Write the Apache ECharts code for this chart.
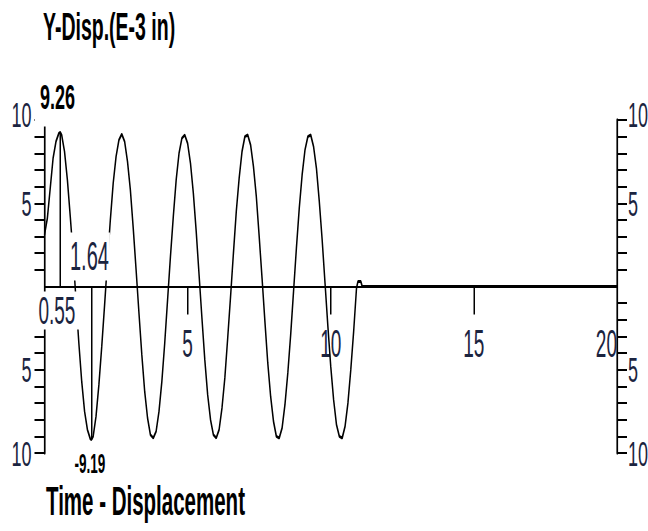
<!DOCTYPE html>
<html>
<head>
<meta charset="utf-8">
<script src="https://cdn.jsdelivr.net/npm/echarts@6/dist/echarts.min.js"></script>
<style>
  html, body { margin: 0; padding: 0; background: #fff; overflow: hidden; }
  /* the chart is laid out on a 1296px-wide stage and squeezed to 648px,
     which gives the tall, condensed lettering of the plotter output */
  #chart { width: 1296px; height: 531px; transform: scaleX(0.5); transform-origin: 0 0; }
</style>
</head>
<body>
<div id="chart"></div>
<script>
// time axis (s) and Y displacement (E-3 in)
const timeSec = [
  0, 0.1, 0.2, 0.3, 0.4, 0.5, 0.55, 0.6, 0.7, 0.8, 0.9,
  1.0, 1.1, 1.2, 1.3, 1.4, 1.5, 1.6, 1.64, 1.7, 1.8, 1.9,
  2.0, 2.1, 2.2, 2.3, 2.4, 2.5, 2.6, 2.7, 2.8, 2.9,
  3.0, 3.1, 3.2, 3.3, 3.4, 3.5, 3.6, 3.7, 3.8, 3.9,
  4.0, 4.1, 4.2, 4.3, 4.4, 4.5, 4.6, 4.7, 4.8, 4.9,
  5.0, 5.1, 5.2, 5.3, 5.4, 5.5, 5.6, 5.7, 5.8, 5.9,
  6.0, 6.1, 6.2, 6.3, 6.4, 6.5, 6.6, 6.7, 6.8, 6.9,
  7.0, 7.1, 7.2, 7.3, 7.4, 7.5, 7.6, 7.7, 7.8, 7.9,
  8.0, 8.1, 8.2, 8.3, 8.4, 8.5, 8.6, 8.7, 8.8, 8.9,
  9.0, 9.1, 9.2, 9.3, 9.4, 9.5, 9.6, 9.7, 9.8, 9.9,
  10.0, 10.1, 10.2, 10.3, 10.4, 10.5, 10.6, 10.7, 10.8, 10.9,
  10.95, 11.05, 11.1, 20
];
const dispE3in = [
  3.1, 4.1, 5.9, 7.7, 8.7, 9.2, 9.26, 9.1, 8.1, 6.4, 4.2,
  1.9, -0.8, -3.4, -5.7, -7.5, -8.6, -9.15, -9.19, -9.0, -7.8, -5.9,
  -3.6, -1.1, 1.5, 4.0, 6.2, 7.8, 8.8, 9.15, 8.7, 7.5,
  5.8, 3.5, 1.0, -1.6, -4.1, -6.3, -7.9, -8.9, -9.1, -8.7,
  -7.5, -5.7, -3.4, -0.8, 1.8, 4.2, 6.4, 8.0, 8.9, 9.1,
  8.6, 7.4, 5.6, 3.3, 0.7, -1.9, -4.4, -6.5, -8.0, -8.9,
  -9.1, -8.6, -7.3, -5.5, -3.1, -0.6, 2.0, 4.5, 6.5, 8.1,
  9.0, 9.1, 8.5, 7.2, 5.4, 3.0, 0.5, -2.1, -4.6, -6.6,
  -8.1, -9.0, -9.1, -8.5, -7.1, -5.2, -2.9, -0.3, 2.3, 4.7,
  6.7, 8.2, 9.0, 9.1, 8.4, 7.1, 5.1, 2.8, 0.2, -2.4,
  -4.8, -6.8, -8.3, -9.0, -9.1, -8.4, -7.0, -5.0, -2.7, -0.1,
  0.3, 0.3, 0, 0
];

// extreme-value readouts
const peakTime = 0.55, peakValue = 9.26;
const troughTime = 1.64, troughValue = -9.19;

// axis ticks and labels
const xTickValues = [5, 10, 15];
const xLabelValues = [5, 10, 15, 20];
const yTickValues = [-10, -9, -8, -7, -6, -5, -4, -3, -2, -1, 1, 2, 3, 4, 5, 6, 7, 8, 9, 10];
const yLabelValues = [-10, -5, 5, 10];

const titleText = 'Y-Disp.(E-3 in)';
const footerText = 'Time - Displacement';

const FONT = '"Liberation Sans", Arial, sans-serif';
const INK = '#000';
const LABEL_INK = '#1b2440';

// plot box on the 1296px stage
const GRID = { left: 89, right: 62, top: 120, bottom: 78 };
const plotHeight = 531 - GRID.top - GRID.bottom;

const chart = echarts.init(document.getElementById('chart'), null, { renderer: 'svg' });

function yAxisDef(position, margin) {
  return {
    type: 'value', position: position, min: -10, max: 10, interval: 5,
    axisLine: { show: true, onZero: false, lineStyle: { color: INK, width: 3.4 } },
    axisTick: { show: true, customValues: yTickValues, length: 20, lineStyle: { color: INK, width: 2 } },
    axisLabel: {
      customValues: yLabelValues, margin: margin,
      formatter: v => v === 10 ? '{top|10}' : String(Math.abs(v)),
      rich: { top: { fontFamily: FONT, fontSize: 36, color: LABEL_INK, padding: [0, 0, 12, 0] } },
      fontFamily: FONT, fontSize: 36, color: LABEL_INK
    },
    splitLine: { show: false }
  };
}

function readout(coord, text, style) {
  return {
    coord: coord,
    label: Object.assign({
      show: true, position: 'inside', formatter: text,
      fontFamily: FONT, color: LABEL_INK
    }, style)
  };
}

const option = {
  animation: false,
  backgroundColor: '#fff',
  title: [
    { text: titleText, left: 86, top: 7, padding: 0,
      textStyle: { fontFamily: FONT, fontSize: 39, fontWeight: 'bold', color: INK } },
    { text: footerText, left: 92, top: 481, padding: 0,
      textStyle: { fontFamily: FONT, fontSize: 41, fontWeight: 'bold', color: INK } }
  ],
  grid: Object.assign({ outerBoundsMode: 'none' }, GRID),
  xAxis: {
    type: 'value', min: 0, max: 20, interval: 5,
    // time axis drawn through y = 0, in the middle of the plot box
    position: 'bottom', offset: -plotHeight / 2,
    axisLine: { show: true, onZero: false, lineStyle: { color: INK, width: 2.2 } },
    axisTick: { show: true, customValues: xTickValues, length: 28, lineStyle: { color: INK, width: 3 } },
    axisLabel: {
      customValues: xLabelValues, margin: 38, alignMaxLabel: 'right',
      fontFamily: FONT, fontSize: 38, color: LABEL_INK
    },
    splitLine: { show: false }
  },
  yAxis: [yAxisDef('left', 26), yAxisDef('right', 22)],
  series: [{
    type: 'line',
    data: timeSec.map((t, i) => [t, dispE3in[i]]),
    symbol: 'none',
    lineStyle: { color: INK, width: 3 },
    emphasis: { disabled: true },
    markLine: {
      silent: true, symbol: ['none', 'none'], animation: false,
      label: { show: false },
      lineStyle: { color: INK, width: 3, type: 'solid' },
      emphasis: { disabled: true },
      data: [
        [{ coord: [peakTime, 0] }, { coord: [peakTime, peakValue] }],
        [{ coord: [troughTime, 0] }, { coord: [troughTime, troughValue] }]
      ]
    },
    markPoint: {
      silent: true, symbol: 'circle', symbolSize: 0, animation: false,
      itemStyle: { color: 'rgba(0,0,0,0)' },
      data: [
        readout([peakTime, 10], peakValue.toFixed(2), {
          fontSize: 36, fontWeight: 'bold', color: INK, lineHeight: 30,
          backgroundColor: '#fff', padding: [15, 10, 15, 10], offset: [-5.6, -23.5]
        }),
        readout([peakTime, 0], peakTime.toFixed(2), {
          fontSize: 38, lineHeight: 30,
          backgroundColor: '#fff', padding: [3, 9, 5, 9], offset: [-6.6, 24]
        }),
        readout([troughTime, 0], troughTime.toFixed(2), {
          fontSize: 40, lineHeight: 34,
          backgroundColor: '#fff', padding: [8, 2, 6, 2], offset: [-4, -30]
        }),
        readout([troughTime, -10], troughValue.toFixed(2), {
          fontSize: 27, fontWeight: 'bold', color: INK, lineHeight: 18, offset: [-3, 11]
        })
      ]
    }
  }]
};

chart.setOption(option);
</script>
</body>
</html>
